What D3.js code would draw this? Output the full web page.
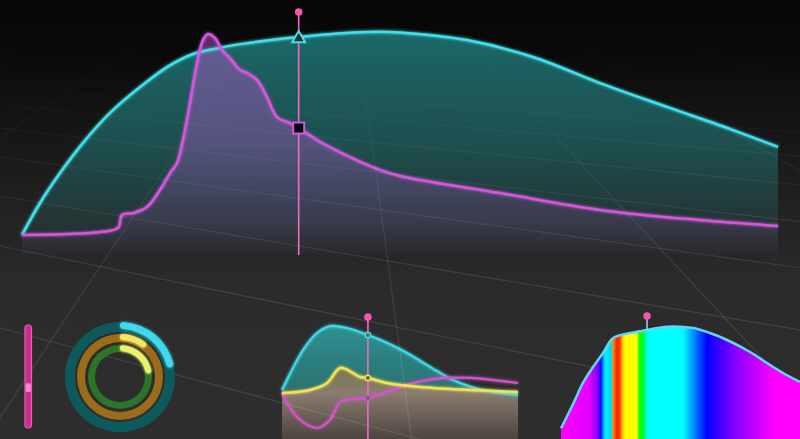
<!DOCTYPE html>
<html><head><meta charset="utf-8">
<script src="https://cdn.jsdelivr.net/npm/d3@7"></script>
<style>html,body{margin:0;padding:0;background:#2d2d2d;overflow:hidden}svg{display:block}</style>
</head><body><svg id="c" width="800" height="439"></svg>
<script>
// ---------- DATA ----------
// Main chart (x 0..100, y 0..100)
const mainCyanX = [0,2.38,5.03,8.07,11.64,15.61,19.18,22.62,25.79,28.84,36.6,45.63,50,58.86,67.59,76.46,85.32,94.05,100];
const mainCyanY = [6.7,20.9,34.2,47.6,60.9,72.4,81.3,87.1,89.6,91.5,94.7,96.9,96.7,93.3,85.8,74.2,63.6,53.3,45.8];
const mainMagX  = [0,5.95,10.32,12.7,13.23,14.68,16.53,18.25,19.58,20.5,21.3,22.22,23.15,23.94,24.6,25.53,26.46,27.51,28.84,29.76,31.08,32.41,33.73,35.45,36.6,39.02,43.39,47.35,50,63.23,76.46,89.68,100];
const mainMagY  = [6.7,7.1,8.0,9.8,15.6,16.4,19.1,26.7,34.2,38.7,48.9,65.3,83.1,93.3,96,94.2,88.9,85.3,80,78.7,75.6,68,59.1,56.4,54.2,48.9,41.3,35.6,32.9,25.3,17.8,13.3,10.7];
const mainCursor = 36.6;

// Middle mini chart
const midCyanX = [0,8.9,14.8,20.3,27.5,36.4,42.8,51.3,58.5,65.7,72.5,79.7,86.9,100];
const midCyanY = [36.4,72.7,88.2,94.5,92.7,86.4,80.9,72.0,63.0,53.6,45.5,39.5,35.5,31.8];
const midYelX  = [0,11.9,19.1,24.6,30.1,33.1,36.4,44.5,58.5,79.7,100];
const midYelY  = [33.6,36.4,42.7,56.4,51.8,48.2,47.3,42.7,39.1,36.4,34.5];
const midMagX  = [0,6.4,14.8,20.3,24.6,30.1,36.4,44.5,55.5,68.2,79.7,100];
const midMagY  = [33.6,11.8,1.8,9.1,25.5,28.2,29.1,34.5,42.7,47.3,47.3,42.7];
const midCursor = 36.4;

// Rainbow mini chart
const rbX = [0,5,9.2,13.4,17.6,21.8,28.9,36,44.4,55.2,62.3,69.5,79.1,86.2,92.9,100];
const rbY = [9,29,46.7,60,71.7,84.2,88.3,90.8,93.6,92.5,88.3,82.5,72.5,63.3,55,47.5];
const rbCursor = 36;
const rbStopsAt  = [0,0.121,0.155,0.167,0.184,0.209,0.218,0.234,0.247,0.255,0.268,0.318,0.326,0.347,0.36,0.51,0.611,0.72,0.895,1];
const rbStopsCol = ['#ff00ff','#e000ff','#8000ff','#0010ff','#00f0ff','#00d8ff','#ff9000','#ff2000','#ff3a00','#ffb000','#ffff00','#ffff00','#10ff00','#00ff30','#00ffff','#00ffff','#0000ff','#8000ff','#ff00ff','#ff00ff'];

// Rings & slider
const ringValues = [0.22, 0.11, 0.23];
const sliderValue = 0.39;

// ---------- DRAW ----------
const W = 800, H = 439;
const svg = d3.select('#c');
const defs = svg.append('defs');

function vGrad(id, y1, y2, stops){
  const g = defs.append('linearGradient').attr('id', id)
    .attr('gradientUnits','userSpaceOnUse').attr('x1',0).attr('x2',0).attr('y1',y1).attr('y2',y2);
  stops.forEach(s => g.append('stop').attr('offset', s[0]).attr('stop-color', s[1]).attr('stop-opacity', s[2] == null ? 1 : s[2]));
}
vGrad('bg', 0, H, [[0,'#060606'],[0.12,'#0a0a0a'],[0.3,'#161616'],[0.5,'#232323'],[0.65,'#2b2b2b'],[1,'#2e2e2e']]);
vGrad('gridG', 0, H, [[0,'#ffffff',0],[0.2,'#ffffff',0.015],[0.4,'#ffffff',0.06],[0.6,'#ffffff',0.1],[1,'#ffffff',0.11]]);
vGrad('tealG', 30, 258, [[0,'rgb(40,165,165)',0.62],[0.5,'rgb(40,155,155)',0.42],[0.85,'rgb(40,150,150)',0.15],[1,'rgb(40,150,150)',0]]);
vGrad('magG', 30, 258, [[0,'rgb(185,80,200)',0.48],[0.5,'rgb(170,90,200)',0.38],[0.85,'rgb(160,90,190)',0.15],[1,'rgb(160,90,190)',0]]);
vGrad('midTeal', 320, 400, [[0,'rgb(45,175,175)',0.8],[1,'rgb(45,150,150)',0.6]]);
vGrad('midLow', 360, 439, [[0,'#6f7848'],[0.42,'#8a7c6e'],[1,'#4c4540']]);

const glow = defs.append('filter').attr('id','glow').attr('x','-20%').attr('y','-20%').attr('width','140%').attr('height','140%');
glow.append('feGaussianBlur').attr('stdDeviation',1.4).attr('result','b');
const fm = glow.append('feMerge'); fm.append('feMergeNode').attr('in','b'); fm.append('feMergeNode').attr('in','SourceGraphic');

svg.append('rect').attr('width',W).attr('height',H).attr('fill','url(#bg)');

const zip = (xs, ys) => xs.map((x,i) => [x, ys[i]]);
const valAt = (xs, ys, x) => ys[xs.indexOf(x)];
const smooth = d3.curveCatmullRom.alpha(0.5);

// ---- main chart ----
const xMain = d3.scaleLinear().domain([0,100]).range([22,778]);
const yMain = d3.scaleLinear().domain([0,100]).range([250,25]);
const mainFloor = yMain.range()[0] + 8;
const gMain = svg.append('g');
const areaMain = d3.area().x(d=>xMain(d[0])).y0(mainFloor).y1(d=>yMain(d[1])).curve(smooth);
const lineMain = d3.line().x(d=>xMain(d[0])).y(d=>yMain(d[1])).curve(smooth);
const cyanD = zip(mainCyanX, mainCyanY), magD = zip(mainMagX, mainMagY);
gMain.append('path').attr('d', areaMain(cyanD)).attr('fill','url(#tealG)');
gMain.append('path').attr('d', areaMain(magD)).attr('fill','url(#magG)');

// ---- middle chart ----
const xMid = d3.scaleLinear().domain([0,100]).range([282,518]);
const yMid = d3.scaleLinear().domain([0,100]).range([430,320]);
const gMid = svg.append('g');
const midC = zip(midCyanX, midCyanY), midY = zip(midYelX, midYelY), midM = zip(midMagX, midMagY);
const areaMid = d3.area().x(d=>xMid(d[0])).y0(H).y1(d=>yMid(d[1])).curve(smooth);
const lineMid = d3.line().x(d=>xMid(d[0])).y(d=>yMid(d[1])).curve(smooth);
gMid.append('path').attr('d', areaMid(midC)).attr('fill','url(#midTeal)');
gMid.append('path').attr('d', areaMid(midY)).attr('fill','url(#midLow)');

// ---- perspective grid ----
const gridA = [72, 87, 105, 128, 157, 196, 246, 328, 456];
const gridB = [-867, -552, -237, 78, 393, 708, 1023, 1338];
const vpA = [-1350, -30], vpB = [340, -95];
const gGrid = svg.append('g').attr('stroke','url(#gridG)').attr('stroke-width',1.1).attr('fill','none');
gridA.forEach(c => {
  const s = (c - vpA[1]) / (0 - vpA[0]);
  gGrid.append('line').attr('x1',-5).attr('y1',c - 5*s).attr('x2',W+5).attr('y2',c + (W+5)*s);
});
gridB.forEach(x0 => {
  const f = y => vpB[0] + (x0 - vpB[0]) * (y - vpB[1]) / (300 - vpB[1]);
  gGrid.append('line').attr('x1',f(0)).attr('y1',0).attr('x2',f(H+5)).attr('y2',H+5);
});

// ---- main strokes & markers ----
gMain.append('path').attr('d', lineMain(cyanD)).attr('fill','none').attr('stroke','#3fe0ea').attr('stroke-width',2.5).attr('filter','url(#glow)');
gMain.append('path').attr('d', lineMain(magD)).attr('fill','none').attr('stroke','#d457dc').attr('stroke-width',2.5).attr('filter','url(#glow)');
const cx = xMain(mainCursor);
const dotY = yMain.range()[1] - 13;
svg.append('line').attr('x1',cx).attr('x2',cx).attr('y1',dotY).attr('y2',mainFloor-3).attr('stroke','#ee6cc8').attr('stroke-width',1.6);
svg.append('circle').attr('cx',cx).attr('cy',dotY).attr('r',3.8).attr('fill','#f556b0');
svg.append('path').attr('d', d3.symbol(d3.symbolTriangle).size(72)())
  .attr('transform',`translate(${cx},${yMain(valAt(mainCyanX, mainCyanY, mainCursor))+1.5})`)
  .attr('fill','#0b2a30').attr('stroke','#40e0ea').attr('stroke-width',2);
const sq = 11;
svg.append('rect').attr('x',cx-sq/2).attr('y',yMain(valAt(mainMagX, mainMagY, mainCursor))-sq/2)
  .attr('width',sq).attr('height',sq).attr('fill','#050505').attr('stroke','#d457dc').attr('stroke-width',2);

// ---- middle strokes & markers ----
gMid.append('path').attr('d', lineMid(midC)).attr('fill','none').attr('stroke','#3fd8e8').attr('stroke-width',2.2).attr('filter','url(#glow)');
gMid.append('path').attr('d', lineMid(midM)).attr('fill','none').attr('stroke','#d452cc').attr('stroke-width',2.2).attr('filter','url(#glow)');
gMid.append('path').attr('d', lineMid(midY)).attr('fill','none').attr('stroke','#f2e254').attr('stroke-width',2.5).attr('filter','url(#glow)');
const mx = xMid(midCursor);
const mDotY = yMid.range()[1] - 3;
svg.append('line').attr('x1',mx).attr('x2',mx).attr('y1',mDotY).attr('y2',H).attr('stroke','#ee6cc8').attr('stroke-width',1.6);
svg.append('circle').attr('cx',mx).attr('cy',mDotY).attr('r',3.8).attr('fill','#f556b0');
[[midCyanX,midCyanY,'#3fd8e8'],[midYelX,midYelY,'#f2e254'],[midMagX,midMagY,'#d452cc']].forEach(([xs,ys,c])=>{
  svg.append('circle').attr('cx',mx).attr('cy',yMid(valAt(xs,ys,midCursor))).attr('r',2.8)
    .attr('fill','#6a6a5a').attr('stroke',c).attr('stroke-width',1.5);
});

// ---- rainbow chart ----
const xRb = d3.scaleLinear().domain([0,100]).range([561,800]);
const yRb = d3.scaleLinear().domain([0,100]).range([439,319]);
const rg = defs.append('linearGradient').attr('id','rainbow').attr('gradientUnits','userSpaceOnUse')
  .attr('x1',xRb.range()[0]).attr('x2',xRb.range()[1]).attr('y1',0).attr('y2',0);
rbStopsAt.forEach((o,i)=> rg.append('stop').attr('offset',o).attr('stop-color',rbStopsCol[i]));
const rbD = zip(rbX, rbY);
svg.append('path').attr('d', d3.area().x(d=>xRb(d[0])).y0(H).y1(d=>yRb(d[1])).curve(smooth)(rbD)).attr('fill','url(#rainbow)');
svg.append('path').attr('d', d3.line().x(d=>xRb(d[0])).y(d=>yRb(d[1])).curve(smooth)(rbD))
  .attr('fill','none').attr('stroke','#62d6f2').attr('stroke-width',2.5);
const rx = xRb(rbCursor), rDotY = yRb.range()[1] - 3;
svg.append('line').attr('x1',rx).attr('x2',rx).attr('y1',rDotY).attr('y2',yRb(valAt(rbX,rbY,rbCursor))).attr('stroke','#9ad8ee').attr('stroke-width',1.5);
svg.append('circle').attr('cx',rx).attr('cy',rDotY).attr('r',3.8).attr('fill','#f556b0');

// ---- rings ----
const ringC = [120, 377];
const rings = [
  {ri:45, ro:55, ai:48, ao:55, track:'#0d5a5c', col:'#3fd8ea'},
  {ri:35, ro:43, ai:37, ao:43, track:'#9c6b1c', col:'#f4e65e'},
  {ri:25, ro:32, ai:26, ao:32, track:'#2c7428', col:'#ecf06c'}
];
const gR = svg.append('g').attr('transform',`translate(${ringC})`);
rings.forEach((r,i)=>{
  gR.append('path').attr('d', d3.arc().innerRadius(r.ri).outerRadius(r.ro).startAngle(0).endAngle(2*Math.PI)()).attr('fill', r.track);
  gR.append('path').attr('d', d3.arc().innerRadius(r.ai).outerRadius(r.ao).startAngle(0).endAngle(2*Math.PI*ringValues[i]).cornerRadius((r.ao-r.ai)/2)())
    .attr('fill', r.col).attr('filter','url(#glow)');
});

// ---- slider ----
const ySl = d3.scaleLinear().domain([0,1]).range([428,325]);
svg.append('rect').attr('x',25).attr('y',ySl(1)).attr('width',6.5).attr('height',ySl(0)-ySl(1)).attr('rx',3.2)
  .attr('fill','#c42e8c').attr('stroke','#f25ab8').attr('stroke-width',1.2);
svg.append('rect').attr('x',25.6).attr('y',ySl(sliderValue)-4.5).attr('width',5.3).attr('height',9).attr('rx',2)
  .attr('fill','#ff82cc');
</script>
</body></html>
